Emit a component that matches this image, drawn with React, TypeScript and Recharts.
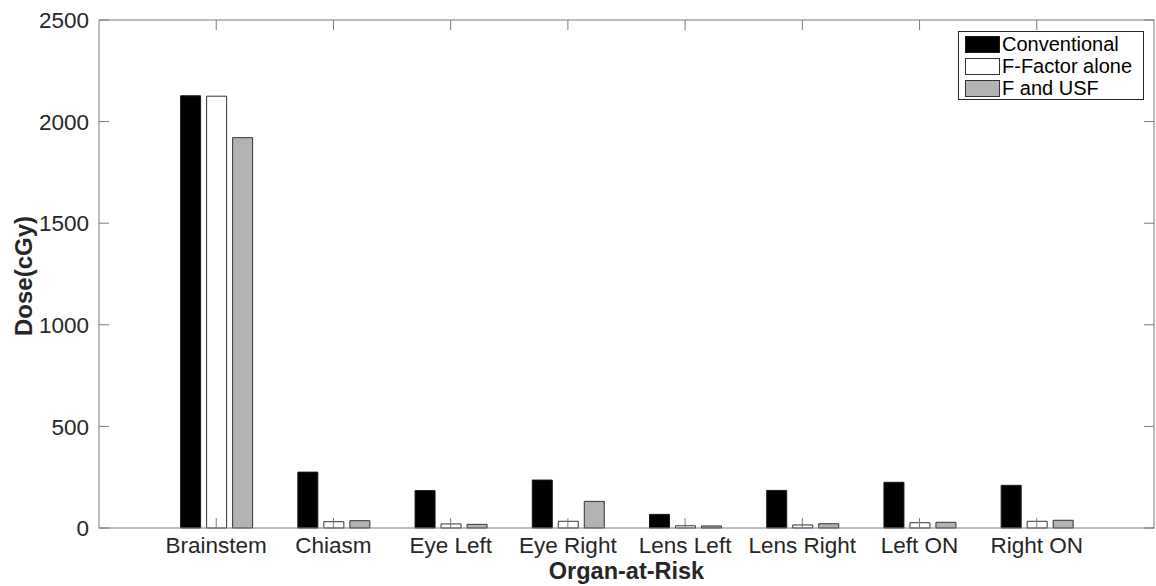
import React from 'react';
import { BarChart, Bar, XAxis, YAxis, Legend } from 'recharts';

const categories = ['Brainstem', 'Chiasm', 'Eye Left', 'Eye Right', 'Lens Left', 'Lens Right', 'Left ON', 'Right ON'];
const conventional = [2127, 275, 184, 236, 67, 185, 225, 210];
const fFactorAlone = [2125, 31, 20, 33, 11, 15, 26, 33];
const fAndUsf = [1921, 36, 18, 131, 10, 21, 28, 38];
const yTicks = [0, 500, 1000, 1500, 2000, 2500];

const seriesInfo = [
  { key: 'conventional', name: 'Conventional', fill: '#000000', stroke: '#1a1a1a' },
  { key: 'fFactor', name: 'F-Factor alone', fill: '#ffffff', stroke: '#333333' },
  { key: 'fUsf', name: 'F and USF', fill: '#b3b3b3', stroke: '#333333' },
];

const data = categories.map((name, i) => ({
  name,
  conventional: conventional[i],
  fFactor: fFactorAlone[i],
  fUsf: fAndUsf[i],
}));

const W = 1156;
const H = 586;
const PL = 99;
const PR = 1154;
const PT = 20;
const PB = 528;
const FONT = '"Liberation Sans", Arial, Helvetica, sans-serif';
const AX = '#7a7a7a';
const TXT = '#262626';

const YTick = (props: any) => {
  const { x, y, payload, index } = props;
  return (
    <g>
      {index === 0 && (
        <rect x={PL} y={PT} width={PR - PL} height={PB - PT} fill="none" stroke={AX} strokeWidth={1} />
      )}
      <line x1={PL} x2={PL + 10} y1={y} y2={y} stroke={AX} strokeWidth={1} />
      <line x1={PR - 10} x2={PR} y1={y} y2={y} stroke={AX} strokeWidth={1} />
      <text x={x} y={y} dy="0.36em" textAnchor="end" fontSize={22.5} fontFamily={FONT} fill={TXT}>
        {payload.value}
      </text>
    </g>
  );
};

const XTick = (props: any) => {
  const { x, payload } = props;
  return (
    <g>
      <line x1={x} x2={x} y1={PB} y2={PB - 10} stroke={AX} strokeWidth={1} />
      <line x1={x} x2={x} y1={PT} y2={PT + 10} stroke={AX} strokeWidth={1} />
      <text x={x} y={553} textAnchor="middle" fontSize={22.5} fontFamily={FONT} fill={TXT}>
        {payload.value}
      </text>
    </g>
  );
};

const LegendBox = () => (
  <svg width={186} height={69} style={{ display: 'block' }}>
    <rect x={0.5} y={0.5} width={185} height={68} fill="#ffffff" stroke="#262626" strokeWidth={1} />
    {seriesInfo.map((s, i) => (
      <g key={s.key}>
        <rect x={7.5} y={5.5 + i * 22} width={34} height={16} fill={s.fill} stroke={s.stroke} strokeWidth={1} />
        <text x={44} y={20 + i * 22} fontSize={20} fontFamily={FONT} fill="#000">
          {s.name}
        </text>
      </g>
    ))}
  </svg>
);

export default function App() {
  return (
    <div style={{ position: 'absolute', left: 0, top: 0, width: W, height: H, background: '#fff' }}>
      <BarChart
        width={W}
        height={H}
        data={data}
        margin={{ top: PT, right: W - PR, bottom: 0, left: 0 }}
        barSize={20}
        barGap={6}
      >
        <YAxis
          width={PL}
          type="number"
          domain={[0, 2500]}
          ticks={yTicks}
          tickLine={false}
          axisLine={false}
          tickSize={0}
          tickMargin={10}
          tick={<YTick />}
          interval={0}
          label={{
            content: () => (
              <text
                transform={`translate(31.5, ${(PT + PB) / 2 + 2}) rotate(-90)`}
                textAnchor="middle"
                fontSize={24}
                fontWeight="bold"
                fontFamily={FONT}
                fill={TXT}
              >
                Dose(cGy)
              </text>
            ),
          }}
        />
        <XAxis
          dataKey="name"
          height={H - PB}
          padding={{ left: (PR - PL) / 18, right: (PR - PL) / 18 }}
          tickLine={false}
          axisLine={false}
          tickSize={0}
          tick={<XTick />}
          interval={0}
          label={{
            content: () => (
              <text
                x={(PL + PR) / 2}
                y={578.5}
                textAnchor="middle"
                fontSize={23.5}
                fontWeight="bold"
                fontFamily={FONT}
                fill={TXT}
              >
                Organ-at-Risk
              </text>
            ),
          }}
        />
        <Legend
          layout="horizontal"
          verticalAlign="middle"
          align="center"
          content={<LegendBox />}
          wrapperStyle={{ position: 'absolute', left: 958, top: 31, width: 186, height: 69, margin: 0 }}
        />
        {seriesInfo.map((s) => (
          <Bar
            key={s.key}
            dataKey={s.key}
            name={s.name}
            fill={s.fill}
            stroke={s.stroke}
            strokeWidth={1}
            isAnimationActive={false}
          />
        ))}
      </BarChart>
    </div>
  );
}
